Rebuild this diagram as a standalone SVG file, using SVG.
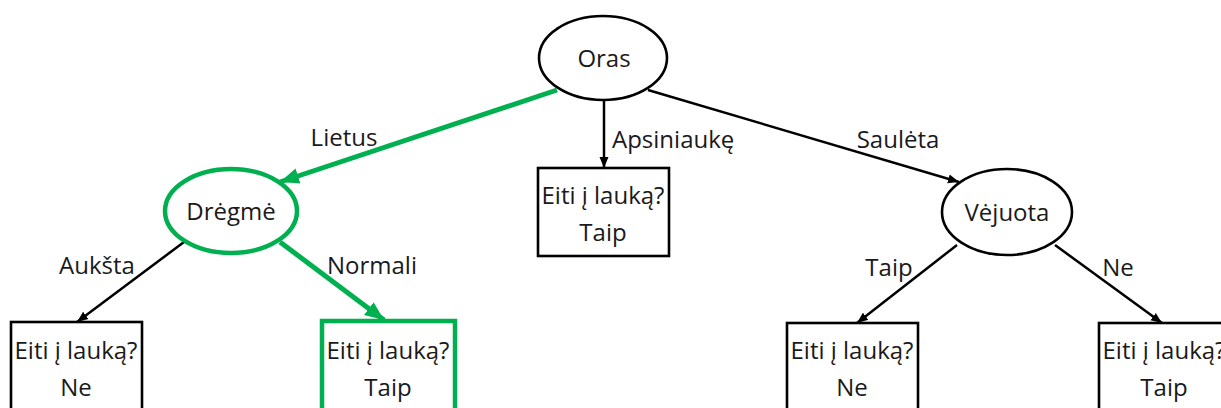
<svg xmlns="http://www.w3.org/2000/svg" width="1221" height="408" viewBox="0 0 1221 408">
  <style>
    .node { fill: #ffffff; stroke: #000000; stroke-width: 2.6; }
    .hl { fill: #ffffff; stroke: #00b050; stroke-width: 4.5; }
    .edge { fill: none; stroke: #000000; stroke-width: 2.5; }
    .edge-hl { fill: none; stroke: #00b050; stroke-width: 5; }
    text { font-family: "Open Sans", "Noto Sans", "DejaVu Sans", sans-serif; font-size: 24px; fill: #1a1a1a; }
    .c { text-anchor: middle; }
  </style>
  <defs>
    <marker id="arrow" markerUnits="userSpaceOnUse" markerWidth="12" markerHeight="12" viewBox="0 0 12 12" refX="11" refY="6" orient="auto">
      <path d="M0,1.5 L11,6 L0,10.5 Z" fill="#000000"/>
    </marker>
    <marker id="arrow-hl" markerUnits="userSpaceOnUse" markerWidth="20" markerHeight="20" viewBox="0 0 20 20" refX="19" refY="10" orient="auto">
      <path d="M0,2 L19,10 L0,18 Z" fill="#00b050"/>
    </marker>
  </defs>

  <!-- connectors -->
  <g id="connectors">
    <line class="edge-hl" x1="557" y1="90" x2="280" y2="182" marker-end="url(#arrow-hl)"/>
    <line class="edge" x1="604" y1="101" x2="604" y2="168" marker-end="url(#arrow)"/>
    <line class="edge" x1="648" y1="90" x2="959" y2="182" marker-end="url(#arrow)"/>
    <line class="edge" x1="184" y1="242" x2="77" y2="322" marker-end="url(#arrow)"/>
    <line class="edge-hl" x1="280" y1="242" x2="384" y2="320" marker-end="url(#arrow-hl)"/>
    <line class="edge" x1="957" y1="245" x2="857" y2="323" marker-end="url(#arrow)"/>
    <line class="edge" x1="1055" y1="245" x2="1162" y2="323" marker-end="url(#arrow)"/>
    <text x="344" y="146" class="c">Lietus</text>
    <text x="612" y="148">Apsiniaukę</text>
    <text x="898" y="148" class="c">Saulėta</text>
    <text x="97" y="274" class="c">Aukšta</text>
    <text x="372" y="274" class="c">Normali</text>
    <text x="889" y="276" class="c">Taip</text>
    <text x="1118" y="276" class="c">Ne</text>
  </g>

  <g id="oras">
    <ellipse class="node" cx="603" cy="58" rx="64" ry="42"/>
    <text x="604" y="67" class="c">Oras</text>
  </g>

  <g id="dregme">
    <ellipse class="hl" cx="231" cy="211" rx="66" ry="42"/>
    <text x="231" y="220" class="c">Drėgmė</text>
  </g>

  <g id="vejuota">
    <ellipse class="node" cx="1007" cy="212" rx="65" ry="43"/>
    <text x="1007" y="221" class="c">Vėjuota</text>
  </g>

  <g id="leaf-apsiniauke">
    <rect class="node" x="538" y="168" width="131" height="88"/>
    <text x="603" y="204" class="c">Eiti į lauką?</text>
    <text x="603" y="241" class="c">Taip</text>
  </g>

  <g id="leaf-auksta">
    <rect class="node" x="11" y="322" width="131" height="100"/>
    <text x="76" y="359" class="c">Eiti į lauką?</text>
    <text x="76" y="396" class="c">Ne</text>
  </g>

  <g id="leaf-normali">
    <rect class="hl" x="322" y="321" width="133" height="100"/>
    <text x="388" y="359" class="c">Eiti į lauką?</text>
    <text x="388" y="396" class="c">Taip</text>
  </g>

  <g id="leaf-vejuota-taip">
    <rect class="node" x="787" y="323" width="131" height="100"/>
    <text x="852" y="359" class="c">Eiti į lauką?</text>
    <text x="852" y="396" class="c">Ne</text>
  </g>

  <g id="leaf-vejuota-ne">
    <rect class="node" x="1099" y="323" width="131" height="100"/>
    <text x="1164" y="359" class="c">Eiti į lauką?</text>
    <text x="1164" y="396" class="c">Taip</text>
  </g>
</svg>
